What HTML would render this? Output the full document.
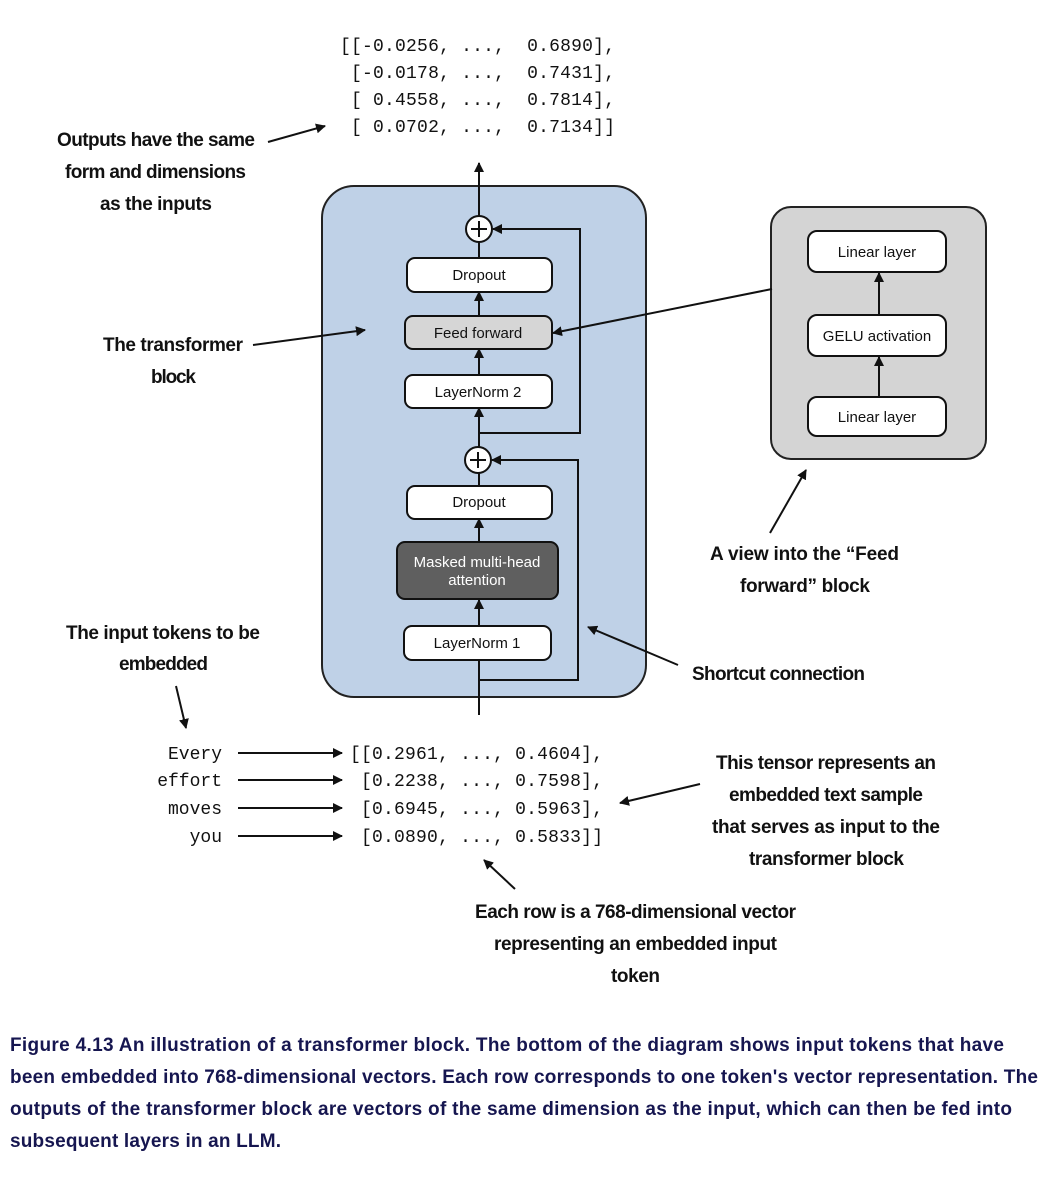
<!DOCTYPE html>
<html><head><meta charset="utf-8"><style>
html,body{margin:0;padding:0;background:#fff;}
svg{display:block}
.l{font-family:"Liberation Sans",sans-serif;font-weight:bold;font-size:19px;fill:#111}
.c{font-family:"Liberation Sans",sans-serif;font-weight:bold;font-size:19px;fill:#161650}
.m{font-family:"Liberation Mono",monospace;font-size:18px;fill:#111;white-space:pre}
.m text{white-space:pre}
.b{font-family:"Liberation Sans",sans-serif;font-size:15px;fill:#111}
</style></head><body>
<svg width="1060" height="1192" viewBox="0 0 1060 1192" xmlns="http://www.w3.org/2000/svg">
<defs><marker id="a" markerWidth="10" markerHeight="10" refX="9" refY="5" orient="auto" markerUnits="userSpaceOnUse"><path d="M0,0 L10,5 L0,10 z" fill="#111"/></marker></defs>
<g class="m">
<text x="340" y="51" textLength="275">[[-0.0256, ...,  0.6890],</text>
<text x="340" y="78" textLength="275"> [-0.0178, ...,  0.7431],</text>
<text x="340" y="105" textLength="275"> [ 0.4558, ...,  0.7814],</text>
<text x="340" y="132" textLength="275"> [ 0.0702, ...,  0.7134]]</text>
<text x="350" y="759" textLength="253">[[0.2961, ..., 0.4604],</text>
<text x="350" y="786" textLength="253"> [0.2238, ..., 0.7598],</text>
<text x="350" y="814" textLength="253"> [0.6945, ..., 0.5963],</text>
<text x="350" y="842" textLength="253"> [0.0890, ..., 0.5833]]</text>
<text x="222" y="759" text-anchor="end">Every</text>
<text x="222" y="786" text-anchor="end">effort</text>
<text x="222" y="814" text-anchor="end">moves</text>
<text x="222" y="842" text-anchor="end">you</text>
</g>
<g stroke="#111" stroke-width="2" fill="none" marker-end="url(#a)">
<line x1="238" y1="753" x2="342" y2="753"/><line x1="238" y1="780" x2="342" y2="780"/>
<line x1="238" y1="808" x2="342" y2="808"/><line x1="238" y1="836" x2="342" y2="836"/>
</g>
<rect x="322" y="186" width="324" height="511" rx="32" fill="#bfd1e7" stroke="#222" stroke-width="2"/>
<rect x="771" y="207" width="215" height="252" rx="20" fill="#d4d4d4" stroke="#222" stroke-width="2"/>
<g stroke="#111" stroke-width="2" fill="none">
<line x1="479" y1="715" x2="479" y2="660"/>
<polyline points="479,680 578,680 578,460 492,460" marker-end="url(#a)"/>
<polyline points="479,433 580,433 580,229 493,229" marker-end="url(#a)"/>
<line x1="479" y1="626" x2="479" y2="600" marker-end="url(#a)"/>
<line x1="479" y1="542" x2="479" y2="519" marker-end="url(#a)"/>
<line x1="479" y1="486" x2="479" y2="473"/>
<line x1="479" y1="447" x2="479" y2="408" marker-end="url(#a)"/>
<line x1="479" y1="375" x2="479" y2="349" marker-end="url(#a)"/>
<line x1="479" y1="316" x2="479" y2="292" marker-end="url(#a)"/>
<line x1="479" y1="258" x2="479" y2="242"/>
<line x1="479" y1="216" x2="479" y2="163" marker-end="url(#a)"/>
<line x1="879" y1="397" x2="879" y2="357" marker-end="url(#a)"/>
<line x1="879" y1="315" x2="879" y2="273" marker-end="url(#a)"/>
<line x1="772" y1="289" x2="553" y2="333" marker-end="url(#a)"/>
<line x1="268" y1="142" x2="325" y2="126" marker-end="url(#a)"/>
<line x1="253" y1="345" x2="365" y2="330" marker-end="url(#a)"/>
<line x1="770" y1="533" x2="806" y2="470" marker-end="url(#a)"/>
<line x1="678" y1="665" x2="588" y2="627" marker-end="url(#a)"/>
<line x1="176" y1="686" x2="186" y2="728" marker-end="url(#a)"/>
<line x1="700" y1="784" x2="620" y2="803" marker-end="url(#a)"/>
<line x1="515" y1="889" x2="484" y2="860" marker-end="url(#a)"/>
</g>
<g stroke="#111" stroke-width="2">
<circle cx="479" cy="229" r="13" fill="#fff"/><line x1="471" y1="229" x2="487" y2="229"/><line x1="479" y1="221" x2="479" y2="237"/>
<circle cx="478" cy="460" r="13" fill="#fff"/><line x1="470" y1="460" x2="486" y2="460"/><line x1="478" y1="452" x2="478" y2="468"/>
<rect x="407" y="258" width="145" height="34" rx="8" fill="#fff"/>
<rect x="405" y="316" width="147" height="33" rx="8" fill="#d6d6d6"/>
<rect x="405" y="375" width="147" height="33" rx="8" fill="#fff"/>
<rect x="407" y="486" width="145" height="33" rx="8" fill="#fff"/>
<rect x="397" y="542" width="161" height="57" rx="8" fill="#5f5f5f"/>
<rect x="404" y="626" width="147" height="34" rx="8" fill="#fff"/>
<rect x="808" y="231" width="138" height="41" rx="9" fill="#fff"/>
<rect x="808" y="315" width="138" height="41" rx="9" fill="#fff"/>
<rect x="808" y="397" width="138" height="39" rx="9" fill="#fff"/>
</g>
<g class="b" text-anchor="middle">
<text x="479" y="280">Dropout</text>
<text x="478" y="338">Feed forward</text>
<text x="478" y="397">LayerNorm 2</text>
<text x="479" y="507">Dropout</text>
<text x="477" y="567" fill="#fff">Masked multi-head</text>
<text x="477" y="585" fill="#fff">attention</text>
<text x="477" y="648">LayerNorm 1</text>
<text x="877" y="257">Linear layer</text>
<text x="877" y="341">GELU activation</text>
<text x="877" y="422">Linear layer</text>
</g>
<g class="l">
<text x="57" y="146" textLength="198">Outputs have the same</text>
<text x="65" y="178" textLength="181">form and dimensions</text>
<text x="100" y="210" textLength="112">as the inputs</text>
<text x="103" y="351" textLength="140">The transformer</text>
<text x="151" y="383" textLength="45">block</text>
<text x="710" y="560" textLength="189">A view into the “Feed</text>
<text x="740" y="592" textLength="130">forward” block</text>
<text x="692" y="680" textLength="173">Shortcut connection</text>
<text x="66" y="639" textLength="194">The input tokens to be</text>
<text x="119" y="670" textLength="89">embedded</text>
<text x="716" y="769" textLength="220">This tensor represents an</text>
<text x="729" y="801" textLength="194">embedded text sample</text>
<text x="712" y="833" textLength="228">that serves as input to the</text>
<text x="749" y="865" textLength="155">transformer block</text>
<text x="475" y="918" textLength="321">Each row is a 768-dimensional vector</text>
<text x="494" y="950" textLength="283">representing an embedded input</text>
<text x="611" y="982" textLength="49">token</text>
</g>
<g class="c">
<text x="10" y="1051" textLength="994">Figure 4.13 An illustration of a transformer block. The bottom of the diagram shows input tokens that have</text>
<text x="10" y="1083" textLength="1028">been embedded into 768-dimensional vectors. Each row corresponds to one token's vector representation. The</text>
<text x="10" y="1115" textLength="1002">outputs of the transformer block are vectors of the same dimension as the input, which can then be fed into</text>
<text x="10" y="1147" textLength="271">subsequent layers in an LLM.</text>
</g>
</svg>
</body></html>
